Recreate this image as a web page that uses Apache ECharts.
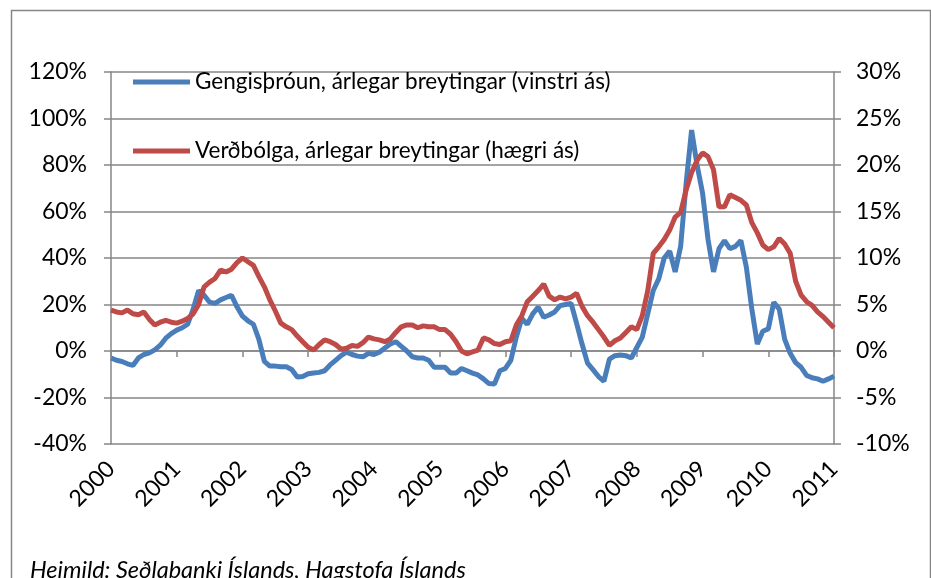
<!DOCTYPE html>
<html>
<head>
<meta charset="utf-8">
<script src="https://cdn.jsdelivr.net/npm/echarts@6/dist/echarts.min.js"></script>
<style>
  html, body { margin: 0; padding: 0; background: #fff; }
  #chart { width: 931px; height: 578px; }
</style>
</head>
<body>
<div id="chart"></div>
<script>
// monthly data, Jan 2000 - Jan 2011
const startYear = 2000
const endYear = 2011

// Gengisþróun, árlegar breytingar (vinstri ás)
const gengi = [
  -3, -4, -4.5, -5.5, -6.2, -3, -1.5, -0.8, 0.5, 2.5, 5.5, 7.5,
  9, 10, 11.5, 18, 26, 24, 21, 20.5, 22, 23, 24, 19,
  15, 13, 11.5, 5, -4.5, -6.5, -6.5, -6.8, -6.8, -8, -11.2, -11,
  -9.8, -9.5, -9.2, -8.5, -6, -4, -2, -0.5, -1.5, -2.2, -2.5, -1,
  -1.5, -0.5, 1.3, 3, 4, 2, 0, -2.5, -3, -3, -4, -7,
  -7, -7, -9.5, -9.5, -7.5, -8.5, -9.5, -10.3, -12, -14, -14.2, -8.5,
  -7.5, -4, 6, 14, 11.5, 16, 18.9, 14.5, 15.5, 16.8, 19.5, 20,
  20.5, 12, 3, -5.2, -8, -11, -13, -3.5, -2, -1.7, -2, -3,
  1.5, 6, 16, 26, 31, 40, 43, 34, 45, 72, 95, 80,
  68, 48, 34, 44, 47.5, 44, 45, 47.5, 36, 18, 3, 8.5,
  9.5, 21, 18, 5, -1, -5, -7, -10.5, -11.5, -12, -13, -12,
  -10.8
]

// Verðbólga, árlegar breytingar (hægri ás)
const verdbolga = [
  4.4, 4.2, 4.1, 4.4, 4.0, 3.9, 4.2, 3.4, 2.8, 3.1, 3.3, 3.1,
  3.0, 3.2, 3.5, 4.0, 5.0, 6.9, 7.4, 7.8, 8.7, 8.5, 8.8, 9.5,
  10.0, 9.6, 9.2, 8, 6.9, 5.5, 4.3, 3.0, 2.6, 2.3, 1.6, 1.0,
  0.4, 0.1, 0.7, 1.2, 1.0, 0.7, 0.2, 0.3, 0.6, 0.5, 0.9, 1.5,
  1.3, 1.2, 1.0, 1.3, 2.0, 2.6, 2.8, 2.8, 2.5, 2.7, 2.6, 2.6,
  2.3, 2.3, 1.8, 1.0, 0.0, -0.3, -0.1, 0.1, 1.4, 1.2, 0.8, 0.7,
  1.0, 1.1, 2.8, 3.8, 5.3, 5.9, 6.5, 7.2, 5.9, 5.5, 5.8, 5.6,
  5.8, 6.2, 4.8, 3.8, 3.1, 2.3, 1.5, 0.6, 1.1, 1.4, 2.0, 2.6,
  2.3, 3.8, 6.5, 10.5, 11.2, 12.0, 13.0, 14.4, 14.9, 17.3, 19.2, 20.5,
  21.3, 20.9, 19.5, 15.5, 15.5, 16.8, 16.5, 16.2, 15.7, 13.8, 12.7, 11.4,
  10.9, 11.2, 12.1, 11.5, 10.5, 7.5, 6.0, 5.3, 4.9, 4.2, 3.7, 3.1,
  2.5
]

const seriesNames = [
  'Gengisþróun, árlegar breytingar (vinstri ás)',
  'Verðbólga, árlegar breytingar (hægri ás)'
]
const source = 'Heimild: Seðlabanki Íslands, Hagstofa Íslands'

const toPoints = (arr) => arr.map((v, i) => [startYear + i / 12, v])

const grey = '#868686'
const font = 'Lato, "Open Sans", sans-serif'

const chart = echarts.init(document.getElementById('chart'), null, { renderer: 'canvas' })

chart.setOption({
  animation: false,
  backgroundColor: '#fff',
  textStyle: { fontFamily: font },
  grid: { left: 111, right: 97, top: 72, bottom: 134, outerBoundsMode: 'none', containLabel: false },
  legend: {
    left: 133,
    top: 70,
    padding: 0,
    orient: 'vertical',
    itemGap: 45,
    icon: 'rect',
    itemWidth: 57,
    itemHeight: 5,
    textStyle: { fontSize: 22.5, lineHeight: 24, color: '#000', fontFamily: font },
    data: seriesNames
  },
  xAxis: {
    type: 'value',
    min: startYear,
    max: endYear,
    interval: 1,
    axisLine: { onZero: true, onZeroAxisIndex: 0, lineStyle: { color: grey, width: 1.5 } },
    axisTick: { length: 6, lineStyle: { color: grey, width: 1.5 } },
    splitLine: { show: false },
    axisLabel: {
      rotate: 45,
      margin: 21,
      fontSize: 23,
      color: '#000',
      fontFamily: font,
      formatter: (v) => String(v)
    }
  },
  yAxis: [
    {
      type: 'value',
      min: -40,
      max: 120,
      interval: 20,
      axisLine: { show: true, lineStyle: { color: grey, width: 1.5 } },
      axisTick: { show: true, length: 7, lineStyle: { color: grey, width: 1.5 } },
      splitLine: { lineStyle: { color: grey, width: 1.5 } },
      axisLabel: { margin: 24, fontSize: 23, color: '#000', fontFamily: font, formatter: '{value}%' }
    },
    {
      type: 'value',
      min: -10,
      max: 30,
      interval: 5,
      position: 'right',
      axisLine: { show: true, lineStyle: { color: grey, width: 1.5 } },
      axisTick: { show: true, length: 7, lineStyle: { color: grey, width: 1.5 } },
      splitLine: { show: false },
      axisLabel: { margin: 22, fontSize: 23, color: '#000', fontFamily: font, formatter: '{value}%' }
    }
  ],
  series: [
    {
      name: seriesNames[0],
      type: 'line',
      yAxisIndex: 0,
      symbol: 'none',
      data: toPoints(gengi),
      lineStyle: { color: '#4A7EBB', width: 5 },
      itemStyle: { color: '#4A7EBB' }
    },
    {
      name: seriesNames[1],
      type: 'line',
      yAxisIndex: 1,
      symbol: 'none',
      data: toPoints(verdbolga),
      lineStyle: { color: '#BE4B48', width: 5 },
      itemStyle: { color: '#BE4B48' }
    }
  ],
  graphic: [
    {
      type: 'rect',
      left: 9,
      top: 8,
      shape: { width: 919, height: 620 },
      style: { fill: 'none', stroke: grey, lineWidth: 1.5 },
      silent: true
    },
    {
      type: 'text',
      left: 30,
      top: 559,
      style: { text: source, fontSize: 23.5, fontStyle: 'italic', fill: '#000', fontFamily: font }
    }
  ]
})
</script>
</body>
</html>
